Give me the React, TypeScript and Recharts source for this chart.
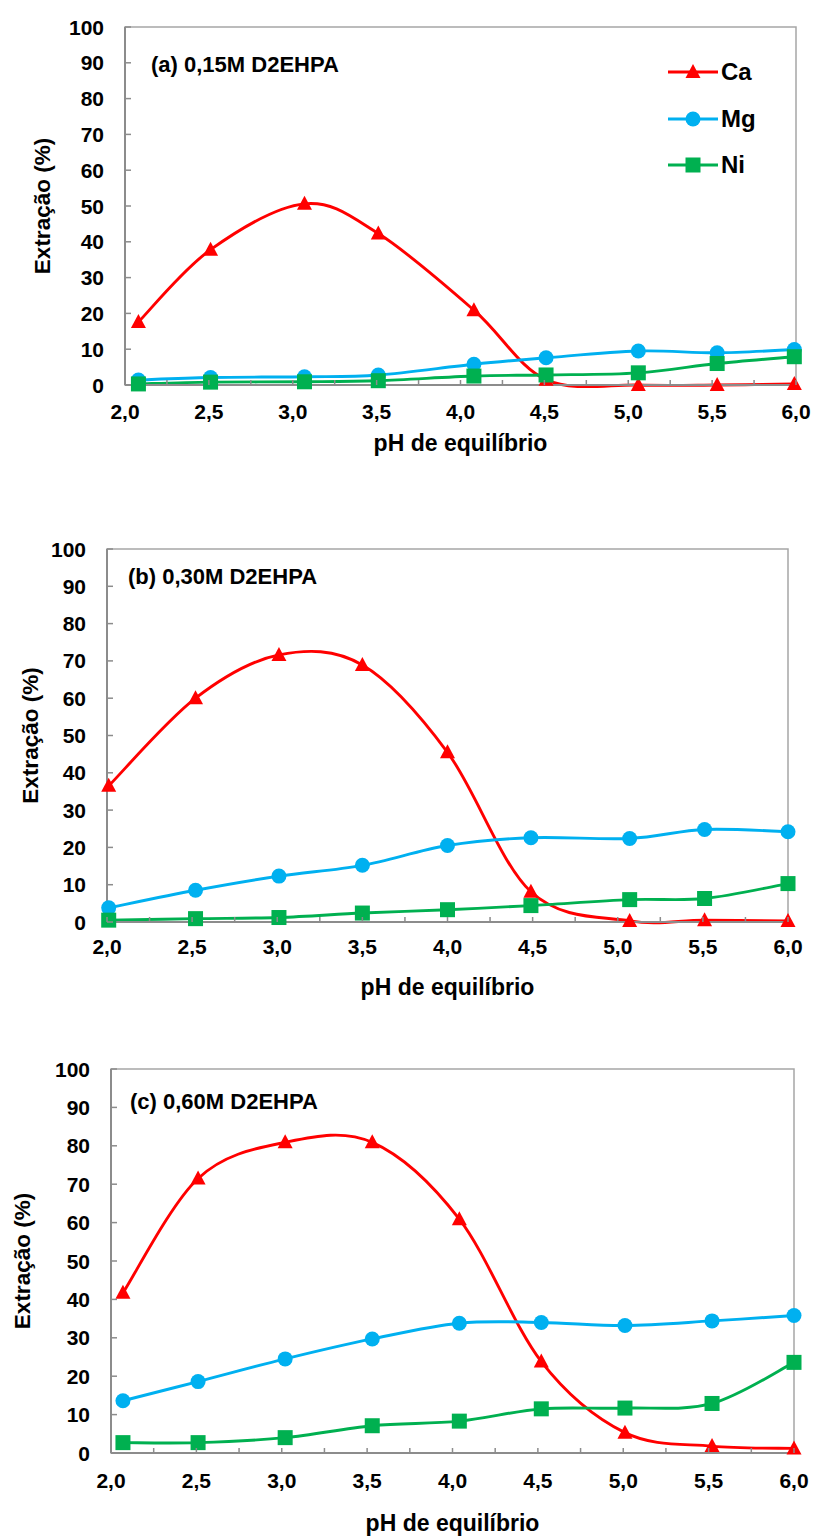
import React from "react";
import { LineChart, Line, XAxis, YAxis, ReferenceArea, Legend } from "recharts";

// pH de equilíbrio and extraction (%)
const phA = [2.08, 2.51, 3.07, 3.51, 4.08, 4.51, 5.06, 5.53, 5.99];
const caA = [17.6, 37.8, 50.6, 42.3, 20.9, 1.5, 0, 0, 0.3];
const mgA = [1.4, 2.1, 2.3, 2.8, 5.8, 7.6, 9.5, 9.0, 9.9];
const niA = [0.3, 0.8, 0.9, 1.2, 2.5, 2.8, 3.4, 6.0, 7.9];

const phB = [2.01, 2.52, 3.01, 3.5, 4.0, 4.49, 5.07, 5.51, 6.0];
const caB = [36.5, 60, 71.6, 68.9, 45.5, 8.1, 0.3, 0.5, 0.3];
const mgB = [3.8, 8.5, 12.3, 15.2, 20.5, 22.6, 22.4, 24.8, 24.2];
const niB = [0.5, 0.9, 1.2, 2.4, 3.3, 4.4, 6.0, 6.3, 10.3];

const phC = [2.07, 2.51, 3.02, 3.53, 4.04, 4.52, 5.01, 5.52, 6.0];
const caC = [41.7, 71.5, 80.9, 80.9, 60.9, 23.8, 5.3, 1.8, 1.2];
const mgC = [13.6, 18.6, 24.5, 29.7, 33.8, 34.0, 33.2, 34.4, 35.8];
const niC = [2.7, 2.7, 4.0, 7.1, 8.3, 11.5, 11.7, 12.9, 23.6];

const yTicks = [0, 10, 20, 30, 40, 50, 60, 70, 80, 90, 100];
const xTicks = [2, 2.25, 2.5, 2.75, 3, 3.25, 3.5, 3.75, 4, 4.25, 4.5, 4.75, 5, 5.25, 5.5, 5.75, 6];

const RED = "#FF0000";
const BLUE = "#00B0F0";
const GREEN = "#00B050";
const AXIS = "#8c8c8c";
const FONT = '"Liberation Sans", Arial, sans-serif';

const YW = 30;
const XH = 30;

// Excel-like smoothed line (Catmull-Rom through the points)
const excelCurve = (context: any) => {
  let pts: number[][] = [];
  return {
    areaStart() {},
    areaEnd() {},
    lineStart() {
      pts = [];
    },
    point(x: number, y: number) {
      pts.push([+x, +y]);
    },
    lineEnd() {
      if (!pts.length) return;
      context.moveTo(pts[0][0], pts[0][1]);
      for (let i = 0; i < pts.length - 1; i++) {
        const p0 = pts[Math.max(0, i - 1)];
        const p1 = pts[i];
        const p2 = pts[i + 1];
        const p3 = pts[Math.min(pts.length - 1, i + 2)];
        context.bezierCurveTo(
          p1[0] + (p2[0] - p0[0]) / 6,
          p1[1] + (p2[1] - p0[1]) / 6,
          p2[0] - (p3[0] - p1[0]) / 6,
          p2[1] - (p3[1] - p1[1]) / 6,
          p2[0],
          p2[1]
        );
      }
    },
  };
};

const triangle = (cx: number, cy: number, fill: string, key?: string) => (
  <path key={key} d={`M${cx},${cy - 8} L${cx + 7.5},${cy + 6} L${cx - 7.5},${cy + 6} Z`} fill={fill} />
);
const circle = (cx: number, cy: number, fill: string, key?: string) => (
  <circle key={key} cx={cx} cy={cy} r={7.5} fill={fill} />
);
const square = (cx: number, cy: number, fill: string, key?: string) => (
  <rect key={key} x={cx - 7.5} y={cy - 7.5} width={15} height={15} fill={fill} />
);

const makeDot = (shape: typeof triangle, color: string, name: string) => (props: any) =>
  shape(props.cx, props.cy, color, `${name}-${props.index}`);

const YTick = ({ x, y, payload }: any) => (
  <g>
    <line x1={x} y1={y} x2={x + 6} y2={y} stroke={AXIS} strokeWidth={1.5} />
    <text x={x - 21} y={y + 7.5} textAnchor="end" fontFamily={FONT} fontWeight="bold" fontSize={21} fill="#000">
      {payload.value}
    </text>
  </g>
);

const makeXTick = (dy: number) => ({ x, y, payload }: any) => {
  const v = payload.value;
  const major = Math.abs(v * 2 - Math.round(v * 2)) < 1e-6;
  return (
    <g>
      <line x1={x} y1={y} x2={x} y2={y - 5} stroke={AXIS} strokeWidth={1.5} />
      {major && (
        <text x={x} y={y + dy} textAnchor="middle" fontFamily={FONT} fontWeight="bold" fontSize={21} fill="#000">
          {v.toFixed(1).replace(".", ",")}
        </text>
      )}
    </g>
  );
};

const LegendBox = () => {
  const rows = [
    { name: "Ca", color: RED, shape: triangle },
    { name: "Mg", color: BLUE, shape: circle },
    { name: "Ni", color: GREEN, shape: square },
  ];
  return (
    <div>
      {rows.map((r) => (
        <div key={r.name} style={{ display: "flex", alignItems: "center", height: 46.5 }}>
          <svg width={50} height={20}>
            <line x1={0} y1={10} x2={50} y2={10} stroke={r.color} strokeWidth={3} />
            {r.shape(25, 10, r.color)}
          </svg>
          <span style={{ fontFamily: FONT, fontWeight: "bold", fontSize: 24, marginLeft: 3, color: "#000" }}>
            {r.name}
          </span>
        </div>
      ))}
    </div>
  );
};

interface Panel {
  id: string;
  title: string;
  ph: number[];
  ca: number[];
  mg: number[];
  ni: number[];
  top: number;
  height: number;
  left: number;
  right: number;
  plotTop: number;
  plotBottom: number;
  yTitleX: number;
  titleX: number;
  titleY: number;
  xTickDy: number;
  xTitleY: number;
  legend?: boolean;
}

const panels: Panel[] = [
  {
    id: "a", title: "(a) 0,15M D2EHPA", ph: phA, ca: caA, mg: mgA, ni: niA,
    top: 0, height: 480, left: 125, right: 796, plotTop: 27, plotBottom: 385,
    yTitleX: 42, titleX: 151, titleY: 72, xTickDy: 34, xTitleY: 451, legend: true,
  },
  {
    id: "b", title: "(b) 0,30M D2EHPA", ph: phB, ca: caB, mg: mgB, ni: niB,
    top: 500, height: 520, left: 107, right: 788, plotTop: 549, plotBottom: 922,
    yTitleX: 30, titleX: 128, titleY: 584, xTickDy: 32, xTitleY: 995,
  },
  {
    id: "c", title: "(c) 0,60M D2EHPA", ph: phC, ca: caC, mg: mgC, ni: niC,
    top: 1040, height: 497, left: 111, right: 794, plotTop: 1069, plotBottom: 1453,
    yTitleX: 22, titleX: 130, titleY: 1109, xTickDy: 35, xTitleY: 1531,
  },
];

const ExtractionPanel = ({ p }: { p: Panel }) => {
  const data = p.ph.map((ph, i) => ({ ph, ca: p.ca[i], mg: p.mg[i], ni: p.ni[i] }));
  const plotTop = p.plotTop - p.top;
  const plotBottom = p.plotBottom - p.top;
  const midY = (plotTop + plotBottom) / 2;
  const midX = (p.left + p.right) / 2;
  return (
    <div style={{ position: "absolute", left: 0, top: p.top, width: 817, height: p.height }}>
      <LineChart
        width={817}
        height={p.height}
        data={data}
        margin={{ top: plotTop, left: p.left - YW, right: 817 - p.right, bottom: p.height - plotBottom - XH }}
      >
        <ReferenceArea
          x1={2}
          x2={6}
          y1={0}
          y2={100}
          fill="none"
          stroke="#a6a6a6"
          strokeWidth={1.5}
          label={{
            content: () => (
              <text x={p.titleX} y={p.titleY - p.top} fontFamily={FONT} fontWeight="bold" fontSize={22} fill="#000">
                {p.title}
              </text>
            ),
          }}
        />
        <XAxis
          dataKey="ph"
          type="number"
          domain={[2, 6]}
          ticks={xTicks}
          interval={0}
          height={XH}
          tickSize={0}
          tickMargin={0}
          tickLine={false}
          axisLine={{ stroke: AXIS, strokeWidth: 2 }}
          tick={makeXTick(p.xTickDy)}
          label={{
            content: () => (
              <text x={midX} y={p.xTitleY - p.top} textAnchor="middle" fontFamily={FONT} fontWeight="bold" fontSize={23} fill="#000">
                pH de equilíbrio
              </text>
            ),
          }}
        />
        <YAxis
          type="number"
          domain={[0, 100]}
          ticks={yTicks}
          interval={0}
          width={YW}
          tickSize={0}
          tickMargin={0}
          tickLine={false}
          axisLine={{ stroke: AXIS, strokeWidth: 2 }}
          tick={<YTick />}
          label={{
            content: () => (
              <text
                x={p.yTitleX}
                y={midY}
                transform={`rotate(-90 ${p.yTitleX} ${midY})`}
                textAnchor="middle"
                dominantBaseline="central"
                fontFamily={FONT}
                fontWeight="bold"
                fontSize={22.5}
                fill="#000"
              >
                Extração (%)
              </text>
            ),
          }}
        />
        {p.legend && (
          <Legend
            layout="vertical"
            align="center"
            verticalAlign="middle"
            wrapperStyle={{ left: 668, top: 49, width: 120 }}
            content={() => <LegendBox />}
          />
        )}
        <Line
          dataKey="ca"
          name="Ca"
          type={excelCurve as any}
          stroke={RED}
          strokeWidth={2.9}
          dot={makeDot(triangle, RED, `ca-${p.id}`)}
          activeDot={false}
          isAnimationActive={false}
        />
        <Line
          dataKey="mg"
          name="Mg"
          type={excelCurve as any}
          stroke={BLUE}
          strokeWidth={2.9}
          dot={makeDot(circle, BLUE, `mg-${p.id}`)}
          activeDot={false}
          isAnimationActive={false}
        />
        <Line
          dataKey="ni"
          name="Ni"
          type={excelCurve as any}
          stroke={GREEN}
          strokeWidth={2.9}
          dot={makeDot(square, GREEN, `ni-${p.id}`)}
          activeDot={false}
          isAnimationActive={false}
        />
      </LineChart>
    </div>
  );
}

export default function App() {
  return (
    <div style={{ position: "absolute", left: 0, top: 0, width: 817, height: 1537, background: "#fff" }}>
      {panels.map((p) => (
        <ExtractionPanel key={p.id} p={p} />
      ))}
    </div>
  );
}
